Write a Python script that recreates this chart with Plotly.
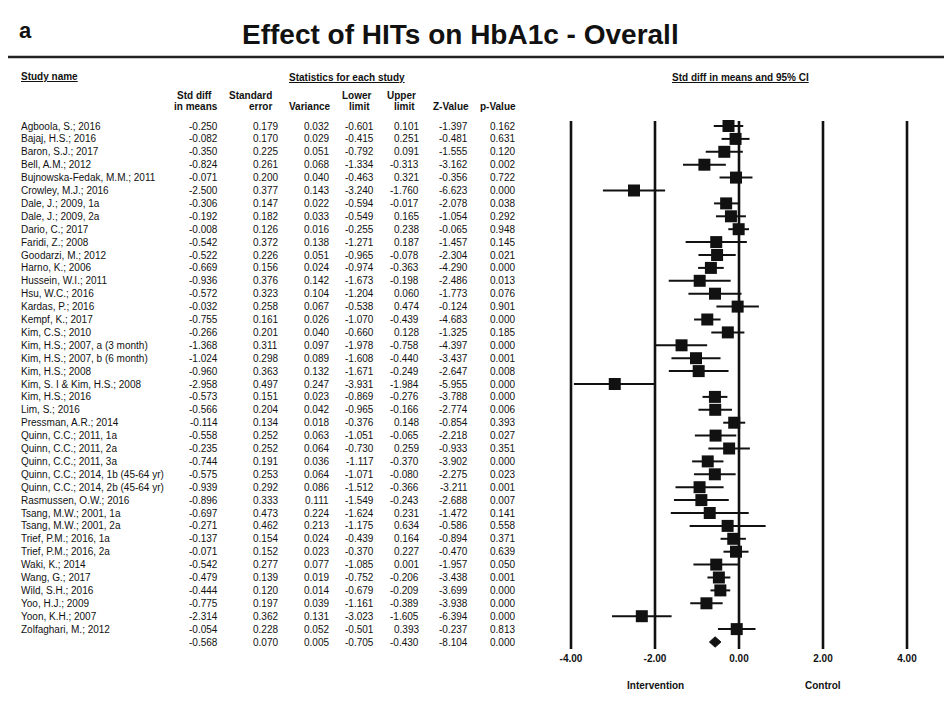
import plotly.graph_objects as go

# ---------------- data ----------------
studies = [
    "Agboola, S.; 2016", "Bajaj, H.S.; 2016", "Baron, S.J.; 2017", "Bell, A.M.; 2012",
    "Bujnowska-Fedak, M.M.; 2011", "Crowley, M.J.; 2016", "Dale, J.; 2009, 1a", "Dale, J.; 2009, 2a",
    "Dario, C.; 2017", "Faridi, Z.; 2008", "Goodarzi, M.; 2012", "Harno, K.; 2006",
    "Hussein, W.I.; 2011", "Hsu, W.C.; 2016", "Kardas, P.; 2016", "Kempf, K.; 2017",
    "Kim, C.S.; 2010", "Kim, H.S.; 2007, a (3 month)", "Kim, H.S.; 2007, b (6 month)", "Kim, H.S.; 2008",
    "Kim, S. I & Kim, H.S.; 2008", "Kim, H.S.; 2016", "Lim, S.; 2016", "Pressman, A.R.; 2014",
    "Quinn, C.C.; 2011, 1a", "Quinn, C.C.; 2011, 2a", "Quinn, C.C.; 2011, 3a", "Quinn, C.C.; 2014, 1b (45-64 yr)",
    "Quinn, C.C.; 2014, 2b (45-64 yr)", "Rasmussen, O.W.; 2016", "Tsang, M.W.; 2001, 1a", "Tsang, M.W.; 2001, 2a",
    "Trief, P.M.; 2016, 1a", "Trief, P.M.; 2016, 2a", "Waki, K.; 2014", "Wang, G.; 2017",
    "Wild, S.H.; 2016", "Yoo, H.J.; 2009", "Yoon, K.H.; 2007", "Zolfaghari, M.; 2012",
]
std_diff = [-0.250, -0.082, -0.350, -0.824, -0.071, -2.500, -0.306, -0.192, -0.008, -0.542,
            -0.522, -0.669, -0.936, -0.572, -0.032, -0.755, -0.266, -1.368, -1.024, -0.960,
            -2.958, -0.573, -0.566, -0.114, -0.558, -0.235, -0.744, -0.575, -0.939, -0.896,
            -0.697, -0.271, -0.137, -0.071, -0.542, -0.479, -0.444, -0.775, -2.314, -0.054]
std_err = [0.179, 0.170, 0.225, 0.261, 0.200, 0.377, 0.147, 0.182, 0.126, 0.372,
           0.226, 0.156, 0.376, 0.323, 0.258, 0.161, 0.201, 0.311, 0.298, 0.363,
           0.497, 0.151, 0.204, 0.134, 0.252, 0.252, 0.191, 0.253, 0.292, 0.333,
           0.473, 0.462, 0.154, 0.152, 0.277, 0.139, 0.120, 0.197, 0.362, 0.228]
variance = [0.032, 0.029, 0.051, 0.068, 0.040, 0.143, 0.022, 0.033, 0.016, 0.138,
            0.051, 0.024, 0.142, 0.104, 0.067, 0.026, 0.040, 0.097, 0.089, 0.132,
            0.247, 0.023, 0.042, 0.018, 0.063, 0.064, 0.036, 0.064, 0.086, 0.111,
            0.224, 0.213, 0.024, 0.023, 0.077, 0.019, 0.014, 0.039, 0.131, 0.052]
lower = [-0.601, -0.415, -0.792, -1.334, -0.463, -3.240, -0.594, -0.549, -0.255, -1.271,
         -0.965, -0.974, -1.673, -1.204, -0.538, -1.070, -0.660, -1.978, -1.608, -1.671,
         -3.931, -0.869, -0.965, -0.376, -1.051, -0.730, -1.117, -1.071, -1.512, -1.549,
         -1.624, -1.175, -0.439, -0.370, -1.085, -0.752, -0.679, -1.161, -3.023, -0.501]
upper = [0.101, 0.251, 0.091, -0.313, 0.321, -1.760, -0.017, 0.165, 0.238, 0.187,
         -0.078, -0.363, -0.198, 0.060, 0.474, -0.439, 0.128, -0.758, -0.440, -0.249,
         -1.984, -0.276, -0.166, 0.148, -0.065, 0.259, -0.370, -0.080, -0.366, -0.243,
         0.231, 0.634, 0.164, 0.227, 0.001, -0.206, -0.209, -0.389, -1.605, 0.393]
z_value = [-1.397, -0.481, -1.555, -3.162, -0.356, -6.623, -2.078, -1.054, -0.065, -1.457,
           -2.304, -4.290, -2.486, -1.773, -0.124, -4.683, -1.325, -4.397, -3.437, -2.647,
           -5.955, -3.788, -2.774, -0.854, -2.218, -0.933, -3.902, -2.275, -3.211, -2.688,
           -1.472, -0.586, -0.894, -0.470, -1.957, -3.438, -3.699, -3.938, -6.394, -0.237]
p_value = [0.162, 0.631, 0.120, 0.002, 0.722, 0.000, 0.038, 0.292, 0.948, 0.145,
           0.021, 0.000, 0.013, 0.076, 0.901, 0.000, 0.185, 0.000, 0.001, 0.008,
           0.000, 0.000, 0.006, 0.393, 0.027, 0.351, 0.000, 0.023, 0.001, 0.007,
           0.141, 0.558, 0.371, 0.639, 0.050, 0.001, 0.000, 0.000, 0.000, 0.813]

# overall (summary) row
overall = {"std_diff": -0.568, "std_err": 0.070, "variance": 0.005,
           "lower": -0.705, "upper": -0.430, "z_value": -8.104, "p_value": 0.000}

x_ticks = [-4, -2, 0, 2, 4]
x_ticklabels = ["-4.00", "-2.00", "0.00", "2.00", "4.00"]
title_text = "Effect of HITs on HbA1c - Overall"

# ---------------- layout helpers ----------------
W, H = 952, 712
ROW0_PX, ROW_STEP = 118.0, 12.9
FONT = "Liberation Sans, Arial, Helvetica, sans-serif"
INK = "#111111"


def px_x(p):
    return p / W


def px_y(p):
    return 1 - p / H


y_top = -ROW0_PX / ROW_STEP
y_bot = y_top + H / ROW_STEP

n = len(studies)
rows = list(range(n))
sum_row = n

fig = go.Figure()

# confidence-interval whiskers
ci_x, ci_y = [], []
for i in rows:
    ci_x += [lower[i], upper[i], None]
    ci_y += [i, i, None]
fig.add_trace(go.Scatter(x=ci_x, y=ci_y, mode="lines",
                         line=dict(color=INK, width=2), hoverinfo="skip", showlegend=False))

# point estimates
fig.add_trace(go.Scatter(x=std_diff, y=rows, mode="markers",
                         marker=dict(symbol="square", size=12, color=INK, line=dict(width=0)),
                         showlegend=False))

# summary diamond
h = 0.4
fig.add_trace(go.Scatter(
    x=[overall["lower"], overall["std_diff"], overall["upper"], overall["std_diff"], overall["lower"]],
    y=[sum_row, sum_row - h, sum_row, sum_row + h, sum_row],
    mode="lines", fill="toself", fillcolor=INK, line=dict(color=INK, width=1),
    showlegend=False, hoverinfo="skip"))

shapes = []
# vertical reference lines at the ticks
for t in x_ticks:
    shapes.append(dict(type="line", xref="x", yref="y", x0=t, x1=t,
                       y0=-0.39, y1=sum_row + 0.54, line=dict(color=INK, width=2.6)))
# horizontal rule under the title
shapes.append(dict(type="line", xref="paper", yref="paper", x0=0, x1=1,
                   y0=px_y(49), y1=px_y(49), line=dict(color="#222222", width=2.5)))

ann = []


def add_text(txt, x_px, y, yref="y", anchor="right", size=10, bold=False, under=False, color=INK):
    font = dict(family=FONT, size=size, color=color)
    if bold:
        font["weight"] = "bold"
    if under:
        font["lineposition"] = "under"
    ann.append(dict(text=txt, x=px_x(x_px), y=y, xref="paper", yref=yref,
                    xanchor=anchor, yanchor="middle", showarrow=False, font=font))


# table columns (right edges in px)
col_right = [212, 272, 323, 368, 413, 462, 509]
cols = [std_diff, std_err, variance, lower, upper, z_value, p_value]
keys = ["std_diff", "std_err", "variance", "lower", "upper", "z_value", "p_value"]

for i in rows:
    add_text(studies[i], 11, i, anchor="left")
    for c, xr in zip(cols, col_right):
        add_text(f"{c[i]:.3f}", xr, i)
for k, xr in zip(keys, col_right):
    add_text(f"{overall[k]:.3f}", xr, sum_row)

# headings
add_text("Study name", 11, px_y(68), yref="paper", anchor="left", bold=True, under=True)
add_text("Statistics for each study", 339, px_y(69), yref="paper", anchor="center", bold=True, under=True)
add_text("Std diff in means and 95% CI", 732, px_y(70), yref="paper", anchor="center", bold=True, under=True)

hdr = [("Std diff", 186, 88), ("in means", 188, 99),
       ("Standard", 243, 88), ("error", 252, 99),
       ("Variance", 302, 99),
       ("Lower", 349, 88), ("limit", 351, 99),
       ("Upper", 393, 88), ("limit", 396, 99),
       ("Z-Value", 443, 99), ("p-Value", 490, 99)]
for t, xc, yc in hdr:
    add_text(t, xc, px_y(yc), yref="paper", anchor="center", bold=True)

# title and panel letter
add_text(title_text, 452, px_y(26), yref="paper", anchor="center", size=28, bold=True)
add_text("a", 9, px_y(22), yref="paper", anchor="left", size=22, bold=True)

# favours labels
ann.append(dict(text="Intervention", x=-2, y=px_y(677), xref="x", yref="paper",
                showarrow=False, xanchor="center", yanchor="middle",
                font=dict(family=FONT, size=10, color=INK, weight="bold")))
ann.append(dict(text="Control", x=2, y=px_y(677), xref="x", yref="paper",
                showarrow=False, xanchor="center", yanchor="middle",
                font=dict(family=FONT, size=10, color=INK, weight="bold")))

x0_px = 731 - 4.5 * 42
x1_px = 731 + 4.5 * 42
fig.update_layout(
    width=W, height=H, margin=dict(l=0, r=0, t=0, b=0),
    paper_bgcolor="white", plot_bgcolor="white",
    shapes=shapes, annotations=ann,
    xaxis=dict(range=[-4.5, 4.5], domain=[px_x(x0_px), px_x(x1_px)],
               tickvals=x_ticks, ticktext=x_ticklabels,
               tickfont=dict(family=FONT, size=10, color=INK, weight="bold"),
               showgrid=False, zeroline=False, showline=False, ticks="",
               anchor="free", position=px_y(643), fixedrange=True),
    yaxis=dict(range=[y_bot, y_top], domain=[0, 1], visible=False, fixedrange=True),
    showlegend=False,
)

fig.write_html("out.html")
